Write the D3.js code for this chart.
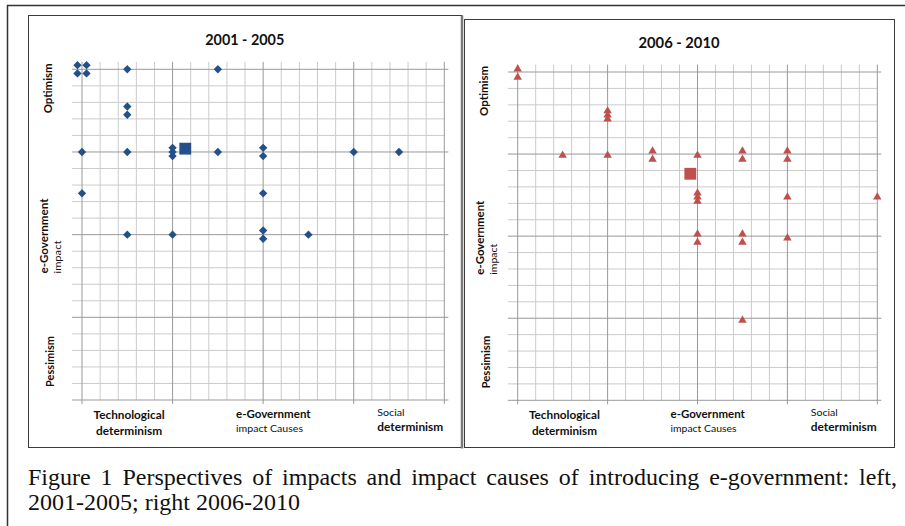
<!DOCTYPE html>
<html><head><meta charset="utf-8">
<script src="https://cdn.jsdelivr.net/npm/d3@7"></script>
<style>body{margin:0;background:#fff} svg{display:block}</style>
</head><body>
<svg id="c" width="905" height="526"></svg>
<script>
// ---------- DATA ----------
const panelTitles = ["2001 - 2005", "2006 - 2010"];
const xAxisLabels = [["Technological", "determinism"], ["e-Government", "impact Causes"], ["Social", "determinism"]];
const yAxisLabels = ["Optimism", ["e-Government", "impact"], "Pessimism"];
const gridTicks = [0,1,2,3,4,5,6,7,8,9,10,11,12,13,14,15,16,17,18,19,20];
const majorTicks = [0,5,10,15,20];

// 2001-2005 : blue diamonds [cause, impact]
const points2001 = [
  [-0.25,20.25],[0.25,20.25],[-0.25,19.75],[0.25,19.75],
  [2.5,20],[7.5,20],
  [2.5,17.75],[2.5,17.25],
  [0,15],[2.5,15],[5,15.25],[5,15],[5,14.75],[7.5,15],[10,15.25],[10,14.75],[15,15],[17.5,15],
  [0,12.5],[10,12.5],
  [2.5,10],[5,10],[10,10.25],[10,9.75],[12.5,10]
];
const mean2001 = [[5.7, 15.2]];

// 2006-2010 : red triangles [cause, impact]
const points2006 = [
  [0,20.25],[0,19.75],
  [5,17.7],[5,17.45],[5,17.2],
  [2.5,15],[5,15],[7.5,15.25],[7.5,14.75],[10,15],[12.5,15.25],[12.5,14.75],[15,15.25],[15,14.75],
  [10,12.7],[10,12.45],[10,12.2],[15,12.45],[20,12.45],
  [10,10.2],[10,9.7],[12.5,10.2],[12.5,9.7],[15,9.95],
  [12.5,4.95]
];
const mean2006 = [[9.6, 13.8]];

const captionLines = [
  "Figure 1 Perspectives of impacts and impact causes of introducing e-government: left,",
  "2001-2005; right 2006-2010"
];

// ---------- LAYOUT ----------
const svg = d3.select("#c");
const FONT = "Lato, 'Open Sans', sans-serif";

// outer frame
svg.append("line").attr("x1",7).attr("x2",905).attr("y1",5.5).attr("y2",5.5).attr("stroke","#333").attr("stroke-width",1.5);
svg.append("line").attr("x1",7.5).attr("x2",7.5).attr("y1",5).attr("y2",526).attr("stroke","#333").attr("stroke-width",1.5);

const diamond = { draw(ctx, size){ const r = Math.sqrt(size)/2; ctx.moveTo(0,-r); ctx.lineTo(r,0); ctx.lineTo(0,r); ctx.lineTo(-r,0); ctx.closePath(); } };
const triangle = { draw(ctx, size){ const w = Math.sqrt(size); const h = w*0.85; ctx.moveTo(0,-h/2); ctx.lineTo(w/2,h/2); ctx.lineTo(-w/2,h/2); ctx.closePath(); } };
const square = { draw(ctx, size){ const s = Math.sqrt(size)/2; ctx.rect(-s,-s,2*s,2*s); } };

const panels = [
  { box:[28.5,15.5,462,447.5], xr:[82,444.3], yr:[400,69.3], title:panelTitles[0], titleY:44.5,
    pts:points2001, mean:mean2001, color:"#24508a", shape:diamond, size:70,
    widths:{title:79,opt:50,eg:75,imp:33,pes:51,tech:71,det1:66,egx:74.7,ic:67,soc:27.3,det2:66}, pesDx:2 },
  { box:[464.5,19.5,894.5,447.5], xr:[517.7,877.3], yr:[400.3,72], title:panelTitles[1], titleY:48,
    pts:points2006, mean:mean2006, color:"#c0504d", shape:triangle, size:72,
    widths:{title:81,opt:50,eg:74,imp:31,pes:53,tech:71,det1:65,egx:74.3,ic:66,soc:27,det2:66}, pesDx:2.5 }
];

panels.forEach((p, i) => {
  const g = svg.append("g");
  const [bx0,by0,bx1,by1] = p.box;
  g.append("rect").attr("x",bx0).attr("y",by0).attr("width",bx1-bx0).attr("height",by1-by0)
    .attr("fill","#fff").attr("stroke","#3a3a3a").attr("stroke-width",1);
  if (i === 0) {
    g.append("line").attr("x1",bx1).attr("x2",bx1).attr("y1",by0).attr("y2",by1+1)
      .attr("stroke","#7a7a7a").attr("stroke-width",2.5);
  }

  const x = d3.scaleLinear().domain([0,20]).range(p.xr);
  const y = d3.scaleLinear().domain([0,20]).range(p.yr);
  const xLeft = x(-0.55), yTop = y(20.45);

  const minor = gridTicks.filter(t => !majorTicks.includes(t));
  g.selectAll(".vmin").data(minor).join("line")
    .attr("x1",d=>x(d)).attr("x2",d=>x(d)).attr("y1",yTop).attr("y2",y(0))
    .attr("stroke","#cbcbcb").attr("stroke-width",1);
  g.selectAll(".hmin").data(minor).join("line")
    .attr("x1",xLeft).attr("x2",x(20)).attr("y1",d=>y(d)).attr("y2",d=>y(d))
    .attr("stroke","#cbcbcb").attr("stroke-width",1);
  g.selectAll(".vmaj").data(majorTicks).join("line")
    .attr("x1",d=>x(d)).attr("x2",d=>x(d)).attr("y1",yTop).attr("y2",y(0)+4)
    .attr("stroke","#999").attr("stroke-width",1);
  g.selectAll(".hmaj").data(majorTicks).join("line")
    .attr("x1",xLeft).attr("x2",x(20)+4).attr("y1",d=>y(d)).attr("y2",d=>y(d))
    .attr("stroke","#999").attr("stroke-width",1);

  g.append("text").attr("x",(bx0+bx1)/2 - 0.5).attr("y",p.titleY).attr("text-anchor","middle")
    .attr("font-family",FONT).attr("font-weight","bold").attr("font-size",15)
    .attr("textLength",p.widths.title).attr("lengthAdjust","spacingAndGlyphs")
    .attr("fill","#111").text(p.title);

  const W = p.widths;
  const txt = (xx, yy, s, size, bold, w, anchor, rot) => {
    const t = g.append("text").attr("font-family",FONT).attr("font-size",size)
      .attr("font-weight",bold?"bold":"normal").attr("fill","#111")
      .attr("text-anchor",anchor).attr("textLength",w).attr("lengthAdjust","spacingAndGlyphs").text(s);
    if (rot) t.attr("transform",`translate(${xx},${yy}) rotate(-90)`);
    else t.attr("x",xx).attr("y",yy);
  };
  txt(x(2.6), 419, xAxisLabels[0][0], 11, true, W.tech, "middle");
  txt(x(2.6), 434.5, xAxisLabels[0][1], 11, true, W.det1, "middle");
  txt(x(8.5), 418, xAxisLabels[1][0], 11, true, W.egx, "start");
  txt(x(8.5), 432, xAxisLabels[1][1], 9.5, false, W.ic, "start");
  txt(x(16.3), 416, xAxisLabels[2][0], 10, false, W.soc, "start");
  txt(x(16.3), 431, xAxisLabels[2][1], 11, true, W.det2, "start");
  txt(x(0)-30, y(18.85), yAxisLabels[0], 11.5, true, W.opt, "middle", true);
  txt(x(0)-34, y(7.65), yAxisLabels[1][0], 11, true, W.eg, "start", true);
  txt(x(0)-21, y(7.65), yAxisLabels[1][1], 9.5, false, W.imp, "start", true);
  txt(x(0)-30+p.pesDx, y(2.33), yAxisLabels[2], 11.5, true, W.pes, "middle", true);

  g.selectAll(".pt").data(p.pts).join("path")
    .attr("transform", d => `translate(${x(d[0])},${y(d[1])})`)
    .attr("d", d3.symbol().type(p.shape).size(p.size))
    .attr("fill", p.color);
  g.selectAll(".mean").data(p.mean).join("path")
    .attr("transform", d => `translate(${x(d[0])},${y(d[1])})`)
    .attr("d", d3.symbol().type(square).size(140))
    .attr("fill", p.color);
});

// caption
const cap = svg.append("g").attr("font-family","'Liberation Serif','Times New Roman',serif").attr("font-size",24).attr("fill","#111");
const l1 = cap.append("text").attr("x",28).attr("y",485).text(captionLines[0]);
const natural = l1.node().getComputedTextLength();
const spaces = (captionLines[0].match(/ /g) || []).length;
l1.attr("word-spacing", ((897 - 28) - natural) / spaces);
cap.append("text").attr("x",28).attr("y",510).text(captionLines[1]);
</script>
</body></html>
